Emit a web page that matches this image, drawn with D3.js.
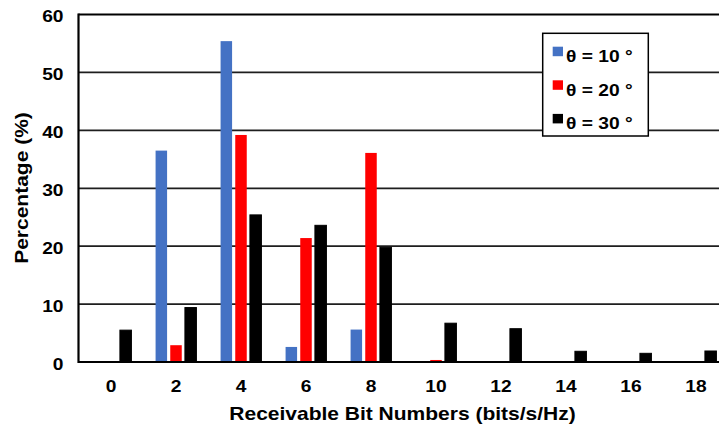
<!DOCTYPE html>
<html>
<head>
<meta charset="utf-8">
<script src="https://cdn.jsdelivr.net/npm/d3@7"></script>
<style>
  html, body { margin: 0; padding: 0; background: #fff; }
  svg { display: block; }
  text { font-family: "Liberation Sans", Arial, sans-serif; font-weight: bold; fill: #000; }
</style>
</head>
<body>
<svg id="chart" width="719" height="424"></svg>
<script>
// ---- data ----
const categories = ["0", "2", "4", "6", "8", "10", "12", "14", "16", "18"];
const seriesNames = ["θ = 10 °", "θ = 20 °", "θ = 30 °"];
const theta10 = [0, 36.5, 55.4, 2.6, 5.6, 0, 0, 0, 0, 0];
const theta20 = [0, 2.9, 39.2, 21.4, 36.1, 0.35, 0, 0, 0, 0];
const theta30 = [5.5, 9.4, 25.4, 23.6, 19.8, 6.7, 5.75, 1.85, 1.5, 1.9];
const yTicks = [0, 10, 20, 30, 40, 50, 60];
const xTitle = "Receivable Bit Numbers (bits/s/Hz)";
const yTitle = "Percentage (%)";

const seriesValues = [theta10, theta20, theta30];
const colors = ["#4472C4", "#FF0000", "#000000"];

// ---- layout ----
const SX = 1.2; // horizontal text stretch
const plotLeft = 78.5, plotRight = 728.5, plotTop = 14.5, plotBottom = 362;
const svg = d3.select("#chart");

const x = d3.scaleBand().domain(categories).range([plotLeft, plotRight]).padding(0);
const xSub = d3.scaleBand().domain(d3.range(seriesNames.length)).range([-22, 22]).padding(0);
const y = d3.scaleLinear().domain([0, 60]).range([plotBottom, plotTop]);
const barW = 11.5;

// gridlines
svg.append("g").selectAll("line").data(yTicks.filter(t => t > 0 && t < 60)).join("line")
  .attr("x1", plotLeft).attr("x2", plotRight)
  .attr("y1", d => y(d)).attr("y2", d => y(d))
  .attr("stroke", "#1e1e1e").attr("stroke-width", 1.75);
// top border
svg.append("line").attr("x1", plotLeft).attr("x2", plotRight)
  .attr("y1", y(60)).attr("y2", y(60)).attr("stroke", "#000").attr("stroke-width", 2.2);

// bars
const bars = [];
categories.forEach((c, i) => {
  seriesValues.forEach((vals, s) => {
    bars.push({ c, s, v: vals[i] });
  });
});
svg.append("g").selectAll("rect").data(bars.filter(d => d.v > 0)).join("rect")
  .attr("x", d => x(d.c) + x.bandwidth() / 2 + xSub(d.s) + xSub.bandwidth() / 2 - barW / 2)
  .attr("width", barW)
  .attr("y", d => y(d.v))
  .attr("height", d => y(0) - y(d.v))
  .attr("fill", d => colors[d.s])
  .attr("stroke", d => d.s === 2 ? "#000" : "none")
  .attr("stroke-width", 1);

// axes lines
svg.append("line").attr("x1", plotLeft).attr("x2", plotRight)
  .attr("y1", y(0)).attr("y2", y(0)).attr("stroke", "#000").attr("stroke-width", 2.2);
svg.append("line").attr("x1", plotLeft).attr("x2", plotLeft)
  .attr("y1", y(60) - 1).attr("y2", y(0) + 1).attr("stroke", "#000").attr("stroke-width", 2.2);

// y axis ticks
const yAxis = d3.axisLeft(y).tickValues(yTicks).tickSize(0).tickPadding(0).tickFormat(d3.format("d"));
const gy = svg.append("g").attr("transform", `translate(${plotLeft},0)`).call(yAxis);
gy.select(".domain").remove();
gy.selectAll("text")
  .attr("x", -15 / SX).attr("dy", "0.46em")
  .attr("transform", `scale(${SX},1)`)
  .style("font-size", "16px").style("font-family", "Liberation Sans, Arial, sans-serif")
  .style("font-weight", "bold").attr("fill", "#000");

// x axis ticks
const xAxis = d3.axisBottom(x).tickSize(0).tickPadding(0);
const gx = svg.append("g").attr("transform", `translate(0,${plotBottom})`).call(xAxis);
gx.select(".domain").remove();
gx.selectAll("text")
  .attr("y", 30).attr("dy", 0)
  .attr("transform", `scale(${SX},1)`)
  .style("font-size", "16px").style("font-family", "Liberation Sans, Arial, sans-serif")
  .style("font-weight", "bold").attr("fill", "#000");

// titles
svg.append("text")
  .attr("transform", `translate(402.5,420) scale(${SX},1)`)
  .attr("text-anchor", "middle").style("font-size", "17.5px").text(xTitle);
svg.append("text")
  .attr("transform", `translate(28,188) rotate(-90) scale(${SX},1)`)
  .attr("text-anchor", "middle").style("font-size", "17.5px").text(yTitle);

// legend
const lg = svg.append("g");
lg.append("rect").attr("x", 542.7).attr("y", 33.3).attr("width", 105.6).attr("height", 102.7)
  .attr("fill", "#fff").attr("stroke", "#000").attr("stroke-width", 1.5);
const items = lg.selectAll("g.item").data(seriesNames).join("g").attr("class", "item")
  .attr("transform", (d, i) => `translate(552.7,${62 + i * 33.6})`);
items.append("rect").attr("x", 0).attr("y", -15.3).attr("width", 10.3).attr("height", 9.5)
  .attr("fill", (d, i) => colors[i]);
items.append("text").attr("transform", `translate(13.3,0) scale(${SX},1)`)
  .style("font-size", "16px").text(d => d);
</script>
</body>
</html>
